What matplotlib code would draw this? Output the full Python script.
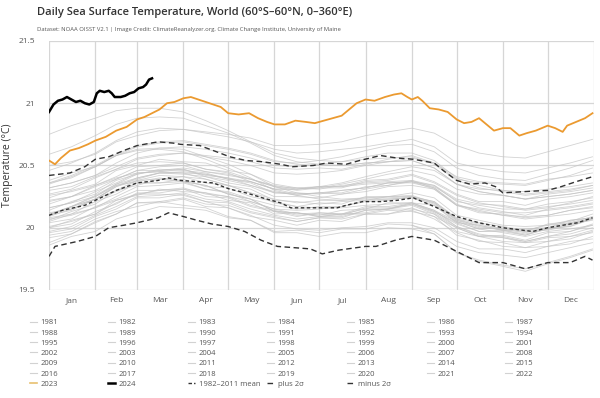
import matplotlib
matplotlib.use("Agg")
import matplotlib.pyplot as plt
from matplotlib.lines import Line2D

plt.rcParams['font.family'] = ['Open Sans', 'DejaVu Sans']

# x positions (day of year) of the values read for each past year
knot_days = [0, 15, 31, 45, 59, 74, 90, 105, 120, 135, 151, 166, 181,
             196, 212, 227, 243, 258, 273, 288, 304, 319, 334, 349, 364]

# 1981 record starts in September
sst_1981 = [20.02, 19.97, 19.85, 19.80, 19.78, 19.76, 19.80, 19.84, 19.88]
sst_1982 = [19.92, 19.95, 20.05, 20.11, 20.20, 20.20, 20.23, 20.17, 20.16, 20.09, 20.06, 20.02, 20.06,
            20.05, 20.11, 20.11, 20.16, 20.09, 20.00, 19.93, 19.94, 19.90, 19.96, 19.97, 20.03]
sst_1983 = [20.06, 20.13, 20.19, 20.30, 20.34, 20.39, 20.37, 20.34, 20.27, 20.23, 20.13, 20.12, 20.09,
            20.11, 20.11, 20.14, 20.13, 20.09, 19.94, 19.90, 19.85, 19.84, 19.85, 19.89, 19.91]
sst_1984 = [19.94, 19.97, 20.07, 20.13, 20.17, 20.21, 20.18, 20.16, 20.09, 20.06, 19.96, 19.96, 19.93,
            19.96, 19.96, 20.00, 19.99, 19.95, 19.80, 19.74, 19.70, 19.67, 19.72, 19.77, 19.83]
sst_1985 = [19.86, 19.93, 19.97, 20.07, 20.12, 20.17, 20.16, 20.14, 20.08, 20.06, 19.97, 19.98, 19.96,
            19.99, 19.99, 20.03, 20.02, 19.95, 19.80, 19.73, 19.69, 19.65, 19.71, 19.76, 19.82]
sst_1986 = [19.88, 19.95, 20.04, 20.11, 20.20, 20.21, 20.24, 20.19, 20.18, 20.12, 20.08, 20.05, 20.08,
            20.08, 20.14, 20.15, 20.20, 20.14, 20.05, 19.99, 20.00, 19.97, 20.03, 20.05, 20.11]
sst_1987 = [20.14, 20.21, 20.27, 20.38, 20.43, 20.47, 20.46, 20.44, 20.39, 20.36, 20.28, 20.28, 20.27,
            20.30, 20.32, 20.36, 20.36, 20.32, 20.18, 20.14, 20.10, 20.09, 20.10, 20.14, 20.16]
sst_1988 = [20.16, 20.20, 20.25, 20.34, 20.37, 20.40, 20.37, 20.34, 20.27, 20.23, 20.13, 20.12, 20.09,
            20.11, 20.12, 20.15, 20.15, 20.11, 19.97, 19.93, 19.89, 19.88, 19.89, 19.93, 19.96]
sst_1989 = [19.97, 20.01, 20.10, 20.17, 20.25, 20.26, 20.28, 20.23, 20.21, 20.15, 20.10, 20.07, 20.09,
            20.09, 20.14, 20.15, 20.19, 20.13, 20.03, 19.97, 19.97, 19.94, 19.99, 20.01, 20.07]
sst_1990 = [20.10, 20.17, 20.23, 20.33, 20.38, 20.42, 20.41, 20.39, 20.34, 20.31, 20.22, 20.21, 20.19,
            20.21, 20.22, 20.25, 20.25, 20.21, 20.07, 20.03, 19.99, 19.98, 19.99, 20.03, 20.06]
sst_1991 = [20.08, 20.11, 20.21, 20.27, 20.36, 20.36, 20.39, 20.33, 20.32, 20.25, 20.21, 20.17, 20.20,
            20.19, 20.25, 20.25, 20.28, 20.24, 20.10, 20.06, 20.02, 20.01, 20.02, 20.06, 20.08]
sst_1992 = [20.07, 20.10, 20.16, 20.22, 20.27, 20.27, 20.26, 20.21, 20.16, 20.10, 20.02, 19.99, 19.98,
            20.00, 20.01, 20.04, 20.04, 20.00, 19.89, 19.83, 19.83, 19.80, 19.85, 19.87, 19.93]
sst_1993 = [19.96, 19.99, 20.09, 20.15, 20.24, 20.24, 20.27, 20.21, 20.20, 20.13, 20.09, 20.05, 20.08,
            20.07, 20.11, 20.11, 20.14, 20.07, 19.96, 19.89, 19.88, 19.84, 19.89, 19.91, 19.97]
sst_1994 = [20.00, 20.06, 20.11, 20.22, 20.26, 20.31, 20.29, 20.28, 20.22, 20.20, 20.11, 20.12, 20.10,
            20.14, 20.15, 20.20, 20.20, 20.18, 20.04, 20.02, 19.98, 19.99, 20.00, 20.06, 20.08]
sst_1995 = [20.12, 20.15, 20.23, 20.29, 20.36, 20.36, 20.37, 20.31, 20.28, 20.21, 20.15, 20.11, 20.12,
            20.11, 20.15, 20.15, 20.18, 20.11, 20.00, 19.93, 19.92, 19.88, 19.92, 19.93, 19.98]
sst_1996 = [20.00, 20.03, 20.13, 20.19, 20.28, 20.28, 20.31, 20.25, 20.24, 20.17, 20.13, 20.09, 20.12,
            20.11, 20.17, 20.17, 20.20, 20.13, 20.04, 19.97, 19.98, 19.94, 20.00, 20.01, 20.08]
sst_1997 = [20.10, 20.17, 20.23, 20.34, 20.39, 20.44, 20.44, 20.43, 20.39, 20.37, 20.31, 20.31, 20.33,
            20.36, 20.41, 20.45, 20.49, 20.46, 20.35, 20.31, 20.30, 20.29, 20.31, 20.33, 20.36]
sst_1998 = [20.38, 20.44, 20.49, 20.58, 20.62, 20.63, 20.61, 20.55, 20.48, 20.40, 20.30, 20.26, 20.23,
            20.22, 20.23, 20.23, 20.24, 20.18, 20.05, 19.99, 19.96, 19.93, 19.97, 19.99, 20.02]
sst_1999 = [20.04, 20.07, 20.17, 20.23, 20.30, 20.30, 20.32, 20.27, 20.25, 20.18, 20.14, 20.10, 20.11,
            20.10, 20.16, 20.16, 20.19, 20.12, 20.01, 19.94, 19.93, 19.89, 19.93, 19.97, 20.02]
sst_2000 = [20.05, 20.11, 20.16, 20.25, 20.33, 20.34, 20.36, 20.31, 20.29, 20.23, 20.18, 20.15, 20.17,
            20.17, 20.22, 20.23, 20.24, 20.20, 20.06, 20.02, 19.98, 19.97, 19.98, 20.02, 20.07]
sst_2001 = [20.10, 20.17, 20.25, 20.35, 20.40, 20.44, 20.43, 20.41, 20.36, 20.33, 20.25, 20.25, 20.24,
            20.27, 20.29, 20.33, 20.34, 20.31, 20.18, 20.15, 20.12, 20.12, 20.14, 20.16, 20.19]
sst_2002 = [20.21, 20.25, 20.34, 20.41, 20.49, 20.50, 20.52, 20.47, 20.45, 20.39, 20.34, 20.31, 20.33,
            20.33, 20.38, 20.39, 20.43, 20.37, 20.27, 20.21, 20.21, 20.18, 20.23, 20.25, 20.28]
sst_2003 = [20.30, 20.33, 20.41, 20.47, 20.52, 20.53, 20.52, 20.47, 20.44, 20.37, 20.31, 20.27, 20.28,
            20.27, 20.31, 20.34, 20.37, 20.33, 20.22, 20.16, 20.13, 20.10, 20.15, 20.17, 20.20]
sst_2004 = [20.22, 20.25, 20.33, 20.39, 20.46, 20.46, 20.47, 20.41, 20.38, 20.34, 20.28, 20.27, 20.28,
            20.30, 20.32, 20.36, 20.37, 20.34, 20.21, 20.18, 20.15, 20.15, 20.17, 20.19, 20.22]
sst_2005 = [20.24, 20.30, 20.35, 20.46, 20.50, 20.55, 20.53, 20.52, 20.46, 20.43, 20.35, 20.32, 20.31,
            20.34, 20.36, 20.37, 20.38, 20.32, 20.19, 20.13, 20.10, 20.07, 20.09, 20.11, 20.14]
sst_2006 = [20.16, 20.20, 20.29, 20.36, 20.44, 20.45, 20.47, 20.42, 20.40, 20.34, 20.29, 20.26, 20.28,
            20.28, 20.33, 20.34, 20.38, 20.34, 20.23, 20.19, 20.18, 20.15, 20.19, 20.21, 20.24]
sst_2007 = [20.26, 20.29, 20.34, 20.40, 20.44, 20.45, 20.44, 20.39, 20.34, 20.28, 20.20, 20.17, 20.16,
            20.16, 20.18, 20.19, 20.20, 20.14, 20.01, 19.95, 19.92, 19.89, 19.93, 19.95, 20.00]
sst_2008 = [20.01, 20.05, 20.11, 20.20, 20.27, 20.30, 20.31, 20.28, 20.25, 20.21, 20.15, 20.14, 20.15,
            20.17, 20.21, 20.22, 20.25, 20.21, 20.08, 20.04, 20.01, 19.98, 20.02, 20.04, 20.07]
sst_2009 = [20.09, 20.15, 20.23, 20.33, 20.40, 20.44, 20.45, 20.43, 20.40, 20.37, 20.31, 20.31, 20.32,
            20.35, 20.39, 20.43, 20.46, 20.42, 20.31, 20.27, 20.26, 20.23, 20.27, 20.29, 20.32]
sst_2010 = [20.35, 20.41, 20.49, 20.58, 20.63, 20.64, 20.63, 20.57, 20.51, 20.43, 20.33, 20.28, 20.25,
            20.23, 20.24, 20.24, 20.25, 20.19, 20.06, 20.00, 19.99, 19.96, 20.00, 20.04, 20.09]
sst_2011 = [20.10, 20.14, 20.23, 20.30, 20.38, 20.39, 20.41, 20.36, 20.34, 20.28, 20.23, 20.20, 20.22,
            20.22, 20.24, 20.25, 20.26, 20.20, 20.07, 20.01, 19.98, 19.95, 19.99, 20.03, 20.08]
sst_2012 = [20.11, 20.17, 20.26, 20.35, 20.43, 20.46, 20.48, 20.45, 20.42, 20.39, 20.33, 20.32, 20.33,
            20.33, 20.35, 20.36, 20.37, 20.31, 20.18, 20.12, 20.11, 20.08, 20.10, 20.14, 20.17]
sst_2013 = [20.19, 20.25, 20.30, 20.39, 20.46, 20.49, 20.50, 20.45, 20.43, 20.39, 20.33, 20.30, 20.32,
            20.32, 20.37, 20.38, 20.42, 20.36, 20.26, 20.20, 20.17, 20.14, 20.16, 20.20, 20.25]
sst_2014 = [20.27, 20.31, 20.40, 20.47, 20.55, 20.58, 20.60, 20.58, 20.56, 20.53, 20.48, 20.47, 20.48,
            20.47, 20.51, 20.55, 20.58, 20.52, 20.39, 20.36, 20.35, 20.34, 20.38, 20.42, 20.48]
sst_2015 = [20.50, 20.53, 20.59, 20.69, 20.74, 20.78, 20.79, 20.77, 20.75, 20.72, 20.66, 20.66, 20.67,
            20.69, 20.74, 20.77, 20.80, 20.76, 20.66, 20.60, 20.57, 20.56, 20.61, 20.66, 20.71]
sst_2016 = [20.75, 20.82, 20.88, 20.94, 20.96, 20.96, 20.93, 20.86, 20.78, 20.69, 20.60, 20.56, 20.54,
            20.53, 20.55, 20.56, 20.57, 20.51, 20.38, 20.32, 20.29, 20.26, 20.28, 20.30, 20.34]
sst_2017 = [20.36, 20.42, 20.50, 20.59, 20.66, 20.69, 20.70, 20.67, 20.64, 20.60, 20.54, 20.51, 20.50,
            20.50, 20.52, 20.53, 20.54, 20.48, 20.35, 20.29, 20.26, 20.23, 20.25, 20.27, 20.30]
sst_2018 = [20.32, 20.36, 20.42, 20.49, 20.56, 20.59, 20.60, 20.57, 20.54, 20.50, 20.44, 20.43, 20.44,
            20.46, 20.50, 20.53, 20.56, 20.52, 20.41, 20.37, 20.36, 20.35, 20.39, 20.41, 20.44]
sst_2019 = [20.46, 20.52, 20.60, 20.70, 20.77, 20.80, 20.79, 20.76, 20.73, 20.69, 20.63, 20.60, 20.61,
            20.63, 20.65, 20.68, 20.71, 20.65, 20.52, 20.48, 20.45, 20.44, 20.48, 20.52, 20.57]
sst_2020 = [20.59, 20.65, 20.74, 20.83, 20.88, 20.89, 20.88, 20.82, 20.76, 20.68, 20.58, 20.53, 20.51,
            20.50, 20.52, 20.53, 20.54, 20.48, 20.35, 20.29, 20.26, 20.23, 20.25, 20.27, 20.30]
sst_2021 = [20.32, 20.36, 20.42, 20.52, 20.60, 20.64, 20.65, 20.63, 20.60, 20.56, 20.50, 20.49, 20.51,
            20.53, 20.57, 20.60, 20.60, 20.54, 20.40, 20.34, 20.30, 20.27, 20.29, 20.31, 20.34]
sst_2022 = [20.36, 20.40, 20.49, 20.58, 20.65, 20.68, 20.69, 20.66, 20.63, 20.59, 20.53, 20.52, 20.54,
            20.57, 20.62, 20.66, 20.67, 20.61, 20.48, 20.42, 20.39, 20.38, 20.43, 20.48, 20.54]

days_2023 = [0, 4, 8, 14, 20, 26, 31, 38, 45, 52, 59, 64, 69, 74, 79, 84, 90, 95, 100, 105, 110, 115,
             120, 127, 134, 140, 146, 151, 158, 165, 172, 178, 184, 190, 196, 201, 206, 212, 218, 225,
             231, 236, 240, 243, 247, 250, 255, 261, 267, 273, 278, 283, 288, 293, 298, 304, 309, 315,
             320, 326, 334, 339, 344, 347, 353, 359, 364]
sst_2023 = [20.54, 20.51, 20.56, 20.62, 20.64, 20.67, 20.70, 20.73, 20.78, 20.81, 20.87, 20.89, 20.92,
            20.95, 21.00, 21.01, 21.04, 21.05, 21.03, 21.01, 20.99, 20.97, 20.92, 20.91, 20.92, 20.88,
            20.85, 20.83, 20.83, 20.86, 20.85, 20.84, 20.86, 20.88, 20.90, 20.95, 21.00, 21.03, 21.02,
            21.05, 21.07, 21.08, 21.05, 21.03, 21.05, 21.02, 20.96, 20.95, 20.93, 20.87, 20.84, 20.85,
            20.88, 20.83, 20.78, 20.80, 20.80, 20.74, 20.76, 20.78, 20.82, 20.80, 20.77, 20.82, 20.85,
            20.88, 20.92]

days_2024 = [0, 3, 6, 9, 12, 15, 18, 21, 24, 27, 30, 32, 34, 37, 40, 42, 44, 48, 51, 54, 57, 60, 63,
             65, 67, 69]
sst_2024 = [20.93, 20.99, 21.02, 21.03, 21.05, 21.03, 21.01, 21.02, 21.00, 20.99, 21.01, 21.08, 21.10,
            21.09, 21.10, 21.08, 21.05, 21.05, 21.06, 21.08, 21.09, 21.12, 21.13, 21.15, 21.19, 21.20]

mean_days = [0, 9, 24, 31, 45, 59, 73, 80, 88, 110, 121, 132, 143, 155, 162, 177, 193, 199, 210, 222,
             233, 244, 258, 273, 288, 304, 324, 334, 354, 364]
mean_sst = [20.10, 20.14, 20.18, 20.22, 20.30, 20.36, 20.38, 20.40, 20.38, 20.36, 20.31, 20.28, 20.24,
            20.20, 20.16, 20.16, 20.16, 20.18, 20.21, 20.21, 20.22, 20.24, 20.17, 20.09, 20.04, 20.00,
            19.97, 20.00, 20.04, 20.08]

plus_days = [0, 14, 24, 31, 40, 50, 59, 73, 83, 88, 101, 110, 121, 132, 143, 155, 163, 177, 186, 199,
             208, 222, 233, 244, 258, 264, 273, 282, 292, 299, 304, 318, 334, 343, 353, 364]
plus_sst = [20.42, 20.44, 20.49, 20.55, 20.57, 20.62, 20.66, 20.69, 20.68, 20.67, 20.66, 20.62, 20.57,
            20.54, 20.53, 20.51, 20.49, 20.50, 20.52, 20.51, 20.54, 20.58, 20.56, 20.55, 20.52, 20.46,
            20.38, 20.35, 20.36, 20.33, 20.28, 20.29, 20.30, 20.33, 20.37, 20.41]

minus_days = [0, 4, 19, 31, 40, 50, 59, 73, 80, 90, 99, 109, 120, 131, 142, 153, 164, 175, 183, 194,
              212, 219, 232, 243, 258, 273, 288, 304, 319, 334, 349, 359, 364]
minus_sst = [19.77, 19.85, 19.89, 19.93, 20.00, 20.02, 20.04, 20.08, 20.12, 20.09, 20.06, 20.03, 20.01,
             19.97, 19.90, 19.85, 19.84, 19.83, 19.79, 19.82, 19.85, 19.85, 19.90, 19.93, 19.90, 19.81,
             19.72, 19.72, 19.67, 19.72, 19.72, 19.77, 19.74]

month_starts = [0, 31, 59, 90, 120, 151, 181, 212, 243, 273, 304, 334, 365]
month_names = ['Jan', 'Feb', 'Mar', 'Apr', 'May', 'Jun',
               'Jul', 'Aug', 'Sep', 'Oct', 'Nov', 'Dec']
y_ticks = [19.5, 20, 20.5, 21, 21.5]

past_years = {
    1981: sst_1981, 1982: sst_1982, 1983: sst_1983, 1984: sst_1984, 1985: sst_1985, 1986: sst_1986,
    1987: sst_1987, 1988: sst_1988, 1989: sst_1989, 1990: sst_1990, 1991: sst_1991, 1992: sst_1992,
    1993: sst_1993, 1994: sst_1994, 1995: sst_1995, 1996: sst_1996, 1997: sst_1997, 1998: sst_1998,
    1999: sst_1999, 2000: sst_2000, 2001: sst_2001, 2002: sst_2002, 2003: sst_2003, 2004: sst_2004,
    2005: sst_2005, 2006: sst_2006, 2007: sst_2007, 2008: sst_2008, 2009: sst_2009, 2010: sst_2010,
    2011: sst_2011, 2012: sst_2012, 2013: sst_2013, 2014: sst_2014, 2015: sst_2015, 2016: sst_2016,
    2017: sst_2017, 2018: sst_2018, 2019: sst_2019, 2020: sst_2020, 2021: sst_2021, 2022: sst_2022,
}

GREY = '#c4c4c4'
ORANGE = '#eb9a30'
DASH = '#333333'

fig = plt.figure(figsize=(6, 3.98), dpi=100)
ax = fig.add_axes([0.0817, 0.2714, 0.9083, 0.6256])

handles = []
for yr, vals in past_years.items():
    ax.plot(knot_days[-len(vals):], vals, color=GREY, lw=0.6, alpha=0.75, zorder=2)
    handles.append(Line2D([], [], color='#d2d2d2', lw=0.8, label=str(yr)))

ax.plot(mean_days, mean_sst, color=DASH, lw=1.0, dashes=(2.5, 1.8), zorder=3)
ax.plot(plus_days, plus_sst, color=DASH, lw=1.0, dashes=(4, 2.5), zorder=3)
ax.plot(minus_days, minus_sst, color=DASH, lw=1.0, dashes=(4, 2.5), zorder=3)
ax.plot(days_2023, sst_2023, color=ORANGE, lw=1.3, zorder=4)
ax.plot(days_2024, sst_2024, color='black', lw=1.8, zorder=5)

handles.append(Line2D([], [], color='#e8c070', lw=1.2, label='2023'))
handles.append(Line2D([], [], color='black', lw=1.8, label='2024'))
handles.append(Line2D([], [], color=DASH, lw=1.0, dashes=(2.5, 1.5), label='1982\u20132011 mean'))
handles.append(Line2D([], [], color=DASH, lw=1.0, dashes=(4, 2, 1, 2), label='plus 2\u03c3'))
handles.append(Line2D([], [], color=DASH, lw=1.0, dashes=(4, 2, 1, 2), label='minus 2\u03c3'))

ax.set_xlim(0, 365)
ax.set_ylim(19.5, 21.5)
ax.set_yticks(y_ticks)
ax.set_yticklabels([f'{v:g}' for v in y_ticks])
ax.set_xticks(month_starts, minor=True)
ax.set_xticks([(a + b) / 2 for a, b in zip(month_starts[:-1], month_starts[1:])])
ax.set_xticklabels(month_names)
ax.grid(True, which='minor', axis='x', color='#d6d6d6', lw=0.9)
ax.grid(True, which='major', axis='y', color='#d6d6d6', lw=0.9)
ax.tick_params(which='both', length=0)
ax.tick_params(axis='y', labelsize=6, labelcolor='#555555', pad=10)
ax.tick_params(axis='x', labelsize=6, labelcolor='#555555', pad=5)
for s in ax.spines.values():
    s.set_visible(False)
ax.set_ylabel('Temperature (\u00b0C)', fontsize=7.5, color='#333333')
ax.yaxis.set_label_coords(-0.066, 0.5)

fig.text(0.062, 0.968, 'Daily Sea Surface Temperature, World (60\u00b0S\u201360\u00b0N, 0\u2013360\u00b0E)',
         fontsize=8, fontweight='semibold', color='#333333', va='center')
fig.text(0.062, 0.927, 'Dataset: NOAA OISST V2.1 | Image Credit: ClimateReanalyzer.org, '
         'Climate Change Institute, University of Maine',
         fontsize=4.2, color='#555555', va='center')

# legend laid out in row order, one legend per column
col_x = [30, 108, 188, 267, 347, 427, 505]
for c, x in enumerate(col_x):
    col = handles[c::7]
    fig.legend(handles=col, loc='upper left', bbox_to_anchor=(x / 600, 1 - 319 / 398),
               frameon=False, fontsize=5.5, labelcolor='#555555', handlelength=0.9,
               handletextpad=0.5, labelspacing=0.38, borderpad=0, borderaxespad=0)

fig.savefig('out.png', dpi=100)
